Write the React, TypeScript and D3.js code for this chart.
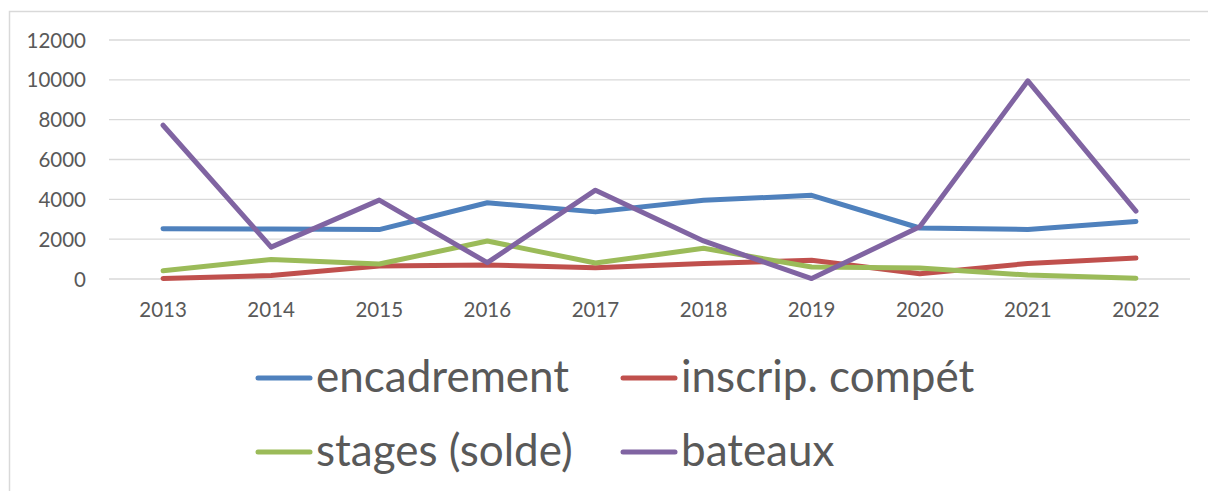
import React from "react";
import * as d3 from "d3";

const years = ["2013", "2014", "2015", "2016", "2017", "2018", "2019", "2020", "2021", "2022"];
const encadrement = [2520, 2510, 2480, 3830, 3370, 3950, 4200, 2560, 2490, 2890];
const inscrip = [30, 170, 650, 700, 570, 780, 940, 260, 780, 1050];
const stages = [410, 980, 750, 1910, 800, 1540, 600, 550, 200, 40];
const bateaux = [7720, 1600, 3960, 820, 4460, 1910, 20, 2620, 9950, 3410];
const yTicks = [0, 2000, 4000, 6000, 8000, 10000, 12000];

const seriesNames = ["encadrement", "inscrip. compét", "stages (solde)", "bateaux"];
const seriesColors = ["#4F81BD", "#C0504D", "#9BBB59", "#8064A2"];
const seriesValues = [encadrement, inscrip, stages, bateaux];

const W = 1208;
const H = 491;
const FONT = "Lato, 'Open Sans', sans-serif";

export default function App() {
  const x = d3.scaleBand().domain(years).range([109, 1190]);
  const y = d3.scaleLinear().domain([0, 12000]).range([279, 40]);
  const line = d3
    .line<number>()
    .x((_, i) => (x(years[i]) as number) + x.bandwidth() / 2)
    .y((d) => y(d));

  const legendPos = [
    { lx: 258, ly: 378 },
    { lx: 623, ly: 378 },
    { lx: 258, ly: 452 },
    { lx: 623, ly: 452 },
  ];

  return (
    <svg
      width={W}
      height={H}
      style={{ position: "absolute", left: 0, top: 0, display: "block", background: "#fff" }}
    >
      <rect x={0} y={0} width={W} height={H} fill="#fff" />
      <path d={`M9.5,${H} V11.5 H${W}`} fill="none" stroke="#D9D9D9" strokeWidth={1.5} />
      {yTicks.map((t) => (
        <g key={t}>
          <line x1={109} x2={1190} y1={y(t)} y2={y(t)} stroke="#D9D9D9" strokeWidth={1.3} />
          <text
            x={86}
            y={y(t) + 7.5}
            textAnchor="end"
            fontFamily={FONT}
            fontSize={20.5}
            fill="#595959"
          >
            {t}
          </text>
        </g>
      ))}
      {years.map((yr) => (
        <text
          key={yr}
          x={(x(yr) as number) + x.bandwidth() / 2}
          y={317}
          textAnchor="middle"
          fontFamily={FONT}
          fontSize={20.5}
          fill="#595959"
        >
          {yr}
        </text>
      ))}
      {seriesValues.map((vals, i) => (
        <path
          key={seriesNames[i]}
          d={line(vals) || ""}
          fill="none"
          stroke={seriesColors[i]}
          strokeWidth={5}
          strokeLinecap="round"
          strokeLinejoin="round"
        />
      ))}
      {seriesNames.map((name, i) => {
        const p = legendPos[i];
        return (
          <g key={name}>
            <line
              x1={p.lx}
              x2={p.lx + 52}
              y1={p.ly}
              y2={p.ly}
              stroke={seriesColors[i]}
              strokeWidth={5}
              strokeLinecap="round"
            />
            <text
              x={p.lx + 58}
              y={p.ly + 14}
              fontFamily={FONT}
              fontSize={44}
              fill="#595959"
            >
              {name}
            </text>
          </g>
        );
      })}
    </svg>
  );
}
